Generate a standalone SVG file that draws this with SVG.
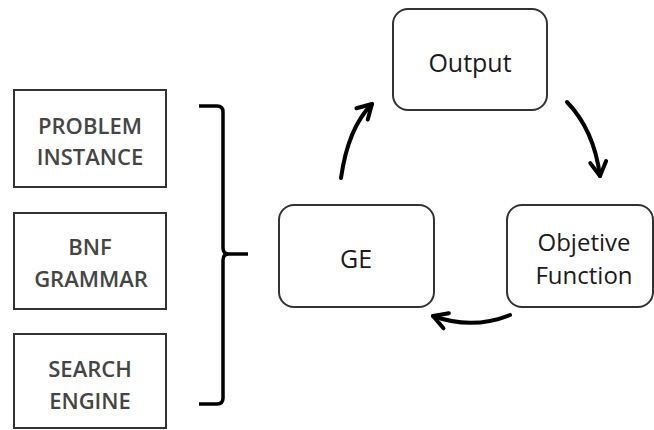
<svg xmlns="http://www.w3.org/2000/svg" width="654" height="430" viewBox="0 0 654 430">
  <style>
    .input rect { fill: #ffffff; stroke: #333333; stroke-width: 2; }
    .input text { font-family: "Open Sans", "Liberation Sans", sans-serif; font-size: 22px; font-weight: 600; fill: #454545; text-anchor: middle; }
    .stage rect { fill: #ffffff; stroke: #333333; stroke-width: 2; }
    .stage text { font-family: "Open Sans", "Liberation Sans", sans-serif; font-size: 25px; fill: #1a1a1a; text-anchor: middle; }
    .stage text.two { font-size: 24px; }
    .link { fill: none; stroke: #000000; stroke-width: 4; stroke-linecap: round; }
    .brace { fill: none; stroke: #000000; stroke-width: 3.5; stroke-linejoin: round; }
  </style>
  <defs>
    <marker id="chevron" markerUnits="userSpaceOnUse" markerWidth="30" markerHeight="30" refX="0" refY="0" orient="auto" overflow="visible" viewBox="-20 -15 30 30">
      <path d="M-14,-8 L0,0 L-14,8" fill="none" stroke="#000000" stroke-width="4" stroke-linecap="round" stroke-linejoin="round"/>
    </marker>
  </defs>

  <rect width="654" height="430" fill="#ffffff"/>

  <!-- inputs -->
  <g id="problem-instance" class="input">
    <rect x="14" y="90" width="152" height="97"/>
    <text x="90" y="134">PROBLEM</text>
    <text x="90" y="165">INSTANCE</text>
  </g>
  <g id="bnf-grammar" class="input">
    <rect x="14" y="213" width="152" height="96"/>
    <text x="90" y="255">BNF</text>
    <text x="91" y="287">GRAMMAR</text>
  </g>
  <g id="search-engine" class="input">
    <rect x="14" y="334" width="152" height="94"/>
    <text x="90" y="377">SEARCH</text>
    <text x="90" y="409">ENGINE</text>
  </g>

  <!-- brace gathering the inputs -->
  <g id="brace">
    <path class="brace" d="M199,106 H217 Q223,106 223,112 V248 Q223,254 229,254 H248 M229,254 Q223,254 223,260 V398 Q223,404 217,404 H199"/>
  </g>

  <!-- loop stages -->
  <g id="output" class="stage">
    <rect x="393" y="9" width="154" height="101" rx="15" ry="15"/>
    <text x="470" y="72">Output</text>
  </g>
  <g id="ge" class="stage">
    <rect x="279" y="205" width="155" height="102" rx="15" ry="15"/>
    <text x="356" y="268">GE</text>
  </g>
  <g id="objective-function" class="stage">
    <rect x="507" y="205" width="146" height="102" rx="15" ry="15"/>
    <text class="two" x="584" y="251">Objetive</text>
    <text class="two" x="584" y="284">Function</text>
  </g>

  <!-- connectors -->
  <g id="connectors">
    <path class="link" d="M341,178 Q348,128 372,104" marker-end="url(#chevron)"/>
    <path class="link" d="M567,102 Q594,130 600,176" marker-end="url(#chevron)"/>
    <path class="link" d="M510,315 Q472,330 433,316" marker-end="url(#chevron)"/>
  </g>
</svg>
